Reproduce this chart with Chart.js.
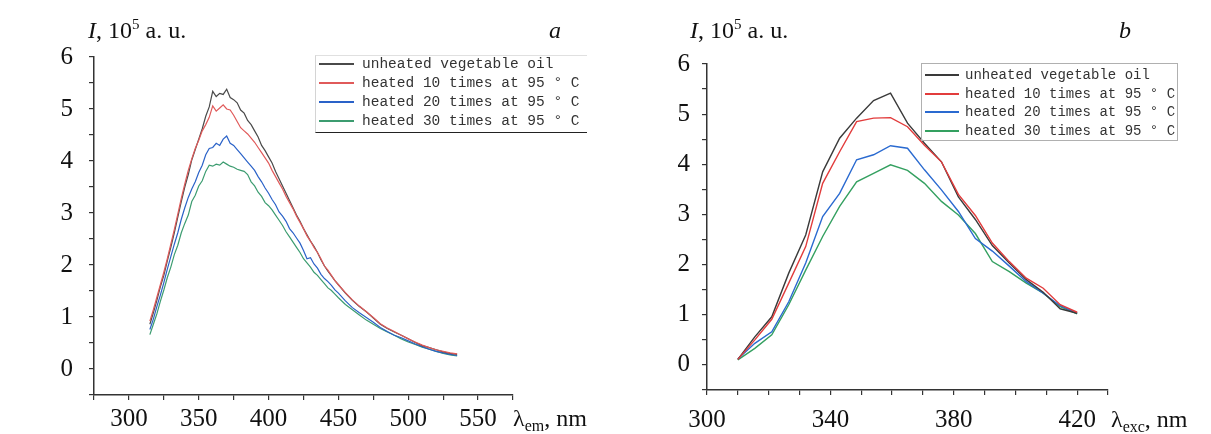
<!DOCTYPE html>
<html>
<head>
<meta charset="utf-8">
<script src="https://cdn.jsdelivr.net/npm/chart.js@4.4.0/dist/chart.umd.min.js"></script>
<style>
  body { margin: 0; background: #fff; width: 1211px; height: 434px; overflow: hidden; position: relative; font-family: "Liberation Serif", serif; color: #111; }
  canvas { position: absolute; top: 0; }
  #chartEm { left: 0; }
  #chartExc { left: 605px; }
  .lbl { position: absolute; font-size: 24px; line-height: 24px; white-space: nowrap; }
  .lbl sup { font-size: 15px; position: relative; top: -9px; vertical-align: baseline; }
  .lbl sub { font-size: 16px; position: relative; top: 5px; vertical-align: baseline; }
  .legend { position: absolute; font-family: "Liberation Mono", monospace; color: #333; box-sizing: border-box; }
  .legend .row { position: absolute; left: 0; right: 0; height: 18px; line-height: 18px; white-space: nowrap; }
  .legend .swatch { position: absolute; }
  .legend .txt { position: absolute; top: 0; }
</style>
</head>
<body>
<canvas id="chartEm" width="605" height="434"></canvas>
<canvas id="chartExc" width="606" height="434"></canvas>

<div class="lbl" style="left:88px; top:18px;"><i>I</i>, 10<sup>5</sup> a. u.</div>
<div class="lbl" style="left:549px; top:18px;"><i>a</i></div>
<div class="lbl" style="left:513px; top:406px;">λ<sub>em</sub>, nm</div>

<div class="lbl" style="left:690px; top:18px;"><i>I</i>, 10<sup>5</sup> a. u.</div>
<div class="lbl" style="left:1119px; top:18px;"><i>b</i></div>
<div class="lbl" style="left:1111px; top:407px;">λ<sub>exc</sub>, nm</div>

<div id="legendEm" class="legend"></div>
<div id="legendExc" class="legend"></div>

<script>
// noms des séries (mêmes pour les deux graphes)
const seriesNames = [
    'unheated vegetable oil',
    'heated 10 times at 95 ° C',
    'heated 20 times at 95 ° C',
    'heated 30 times at 95 ° C'
];

// --- graphe a : spectre d'émission ---
const emWavelength = [315, 317.5, 320, 322.5, 325, 327.5, 330, 332.5, 335, 337.5, 340, 342.5, 345, 347.5, 350, 352.5, 355, 357.5, 360, 362.5,
    365, 367.5, 370, 372.5, 375, 377.5, 380, 382.5, 385, 387.5, 390, 392.5, 395, 397.5, 400, 402.5, 405, 407.5, 410, 412.5,
    415, 417.5, 420, 422.5, 425, 427.5, 430, 432.5, 435, 437.5, 440, 442.5, 445, 447.5, 450,
    455, 460, 465, 470, 475, 480, 485, 490, 495, 500, 505, 510, 515, 520, 525, 530, 535];
const emUnheated = [0.86, 1.08, 1.32, 1.58, 1.80, 2.08, 2.34, 2.62, 2.92, 3.22, 3.50, 3.74, 4.02, 4.22, 4.42, 4.62, 4.86, 5.04, 5.34, 5.24,
    5.30, 5.28, 5.38, 5.22, 5.18, 5.12, 4.98, 4.92, 4.78, 4.70, 4.58, 4.46, 4.30, 4.20, 4.08, 3.96, 3.80, 3.66, 3.52, 3.38,
    3.24, 3.10, 2.96, 2.84, 2.70, 2.58, 2.46, 2.36, 2.24, 2.10, 1.98, 1.88, 1.79, 1.70, 1.62,
    1.46, 1.32, 1.20, 1.10, 0.98, 0.86, 0.78, 0.71, 0.65, 0.58, 0.51, 0.45, 0.41, 0.37, 0.33, 0.30, 0.28];
const emHeated10 = [0.92, 1.14, 1.38, 1.62, 1.86, 2.12, 2.40, 2.68, 2.98, 3.28, 3.56, 3.82, 4.04, 4.24, 4.40, 4.58, 4.70, 4.84, 5.06, 4.96,
    5.02, 5.08, 5.00, 4.98, 4.88, 4.76, 4.64, 4.58, 4.52, 4.44, 4.36, 4.26, 4.16, 4.06, 3.96, 3.82, 3.70, 3.58, 3.46, 3.32,
    3.20, 3.08, 2.94, 2.82, 2.70, 2.56, 2.46, 2.34, 2.24, 2.12, 1.98, 1.90, 1.80, 1.70, 1.62,
    1.47, 1.33, 1.21, 1.10, 0.99, 0.87, 0.79, 0.72, 0.65, 0.58, 0.52, 0.46, 0.41, 0.37, 0.34, 0.31, 0.29];
const emHeated20 = [0.76, 0.96, 1.20, 1.42, 1.66, 1.92, 2.16, 2.40, 2.62, 2.88, 3.10, 3.30, 3.46, 3.60, 3.78, 3.92, 4.12, 4.24, 4.26, 4.34,
    4.30, 4.42, 4.48, 4.34, 4.30, 4.22, 4.14, 4.06, 3.98, 3.90, 3.82, 3.70, 3.60, 3.48, 3.38, 3.26, 3.16, 3.02, 2.94, 2.84,
    2.70, 2.62, 2.52, 2.42, 2.28, 2.12, 2.14, 2.02, 1.94, 1.82, 1.74, 1.68, 1.61, 1.52, 1.46,
    1.31, 1.18, 1.08, 0.99, 0.90, 0.80, 0.72, 0.65, 0.60, 0.54, 0.48, 0.43, 0.38, 0.34, 0.31, 0.28, 0.26];
const emHeated30 = [0.66, 0.86, 1.06, 1.30, 1.52, 1.76, 1.96, 2.20, 2.38, 2.62, 2.80, 2.96, 3.22, 3.34, 3.52, 3.62, 3.80, 3.92, 3.90, 3.94,
    3.92, 3.98, 3.94, 3.90, 3.88, 3.84, 3.82, 3.80, 3.74, 3.60, 3.52, 3.40, 3.32, 3.20, 3.14, 3.06, 2.96, 2.86, 2.76, 2.64,
    2.54, 2.44, 2.34, 2.24, 2.12, 2.04, 1.96, 1.86, 1.80, 1.72, 1.64, 1.56, 1.51, 1.44, 1.37,
    1.24, 1.14, 1.04, 0.94, 0.86, 0.78, 0.71, 0.65, 0.58, 0.52, 0.47, 0.42, 0.38, 0.34, 0.30, 0.27, 0.25];
const emTickLabels = [300, 350, 400, 450, 500, 550];

// --- graphe b : spectre d'excitation ---
const excWavelength = [310, 315.5, 321, 326.5, 332, 337.5, 343, 348.5, 354, 359.5, 365, 370.5, 376, 381.5, 387, 392.5, 398, 403.5, 409, 414.5, 420];
const excUnheated = [0.11, 0.56, 0.96, 1.83, 2.59, 3.85, 4.52, 4.92, 5.27, 5.42, 4.82, 4.42, 4.05, 3.35, 2.90, 2.38, 2.03, 1.70, 1.45, 1.12, 1.03];
const excHeated10 = [0.11, 0.50, 0.91, 1.63, 2.36, 3.62, 4.25, 4.85, 4.92, 4.93, 4.75, 4.38, 4.05, 3.40, 2.98, 2.43, 2.06, 1.73, 1.53, 1.20, 1.05];
const excHeated20 = [0.12, 0.43, 0.66, 1.26, 2.03, 2.96, 3.42, 4.09, 4.19, 4.37, 4.32, 3.89, 3.49, 3.06, 2.52, 2.27, 1.97, 1.66, 1.43, 1.18, 1.03];
const excHeated30 = [0.10, 0.33, 0.60, 1.20, 1.89, 2.56, 3.16, 3.65, 3.82, 3.99, 3.88, 3.62, 3.26, 2.99, 2.62, 2.06, 1.86, 1.63, 1.43, 1.16, 1.02];
const excTickLabels = [300, 340, 380, 420];

const yTickLabels = [0, 1, 2, 3, 4, 5, 6];

// couleurs / épaisseurs des courbes
const emColors = ['#4a4a4a', '#e05a5a', '#2a62c8', '#3c9c70'];
const emWidths = [1.2, 1.2, 1.2, 1.2];
const emLegendWidths = [2, 1.3, 2.5, 1.3];
const excColors = ['#3a3a3a', '#e23c3c', '#2a6ad0', '#34a060'];
const excWidths = [1.4, 1.4, 1.4, 1.4];

const AXIS_COLOR = '#333';
const TICK_FONT = { family: 'Liberation Serif', size: 25 };

function buildDatasets(xs, seriesList, colors, widths) {
    return seriesList.map((vals, i) => ({
        label: seriesNames[i],
        data: xs.map((x, k) => ({ x: x, y: vals[k] })),
        borderColor: colors[i],
        borderWidth: widths[i],
        pointRadius: 0,
        tension: 0,
        fill: false,
        order: i === 1 ? -1 : i  // le rouge passe par-dessus le noir
    }));
}

function makeChart(id, cfg) {
    const ctx = document.getElementById(id).getContext('2d');
    return new Chart(ctx, {
        type: 'line',
        data: { datasets: cfg.datasets },
        options: {
            responsive: false,
            animation: false,
            events: [],
            layout: { padding: cfg.padding },
            plugins: { legend: { display: false }, tooltip: { enabled: false } },
            scales: {
                x: {
                    type: 'linear',
                    min: cfg.xMin, max: cfg.xMax,
                    border: { display: true, color: AXIS_COLOR, width: 1.5 },
                    grid: { drawOnChartArea: false, drawTicks: true, tickLength: 5, color: AXIS_COLOR, lineWidth: 1.2 },
                    ticks: {
                        stepSize: cfg.xStep,
                        autoSkip: false,
                        maxRotation: 0,
                        padding: cfg.xPad,
                        color: '#111',
                        font: TICK_FONT,
                        callback: v => cfg.xLabels.includes(v) ? String(v) : ''
                    },
                    afterFit: s => { s.height = cfg.xAxisHeight; }
                },
                y: {
                    min: -0.5, max: 6,
                    border: { display: true, color: AXIS_COLOR, width: 1.5 },
                    grid: { drawOnChartArea: false, drawTicks: true, tickLength: 5, color: AXIS_COLOR, lineWidth: 1.2 },
                    ticks: {
                        stepSize: 0.5,
                        autoSkip: false,
                        padding: cfg.yPad,
                        color: '#111',
                        font: TICK_FONT,
                        callback: v => yTickLabels.includes(v) ? String(v) : ''
                    },
                    afterFit: s => { s.width = cfg.yAxisWidth; }
                }
            }
        }
    });
}

// légende HTML (positionnée comme sur la figure)
function buildLegend(id, box, colors, widths) {
    const el = document.getElementById(id);
    Object.assign(el.style, box.style);
    el.style.fontSize = box.fontSize + 'px';
    seriesNames.forEach((name, i) => {
        const row = document.createElement('div');
        row.className = 'row';
        row.style.top = (box.rows[i] - 9) + 'px';
        const sw = document.createElement('div');
        sw.className = 'swatch';
        sw.style.left = box.swLeft + 'px';
        sw.style.width = box.swWidth + 'px';
        sw.style.height = widths[i] + 'px';
        sw.style.top = (9 - widths[i] / 2) + 'px';
        sw.style.background = colors[i];
        const tx = document.createElement('div');
        tx.className = 'txt';
        tx.style.left = box.txtLeft + 'px';
        tx.textContent = name;
        row.appendChild(sw);
        row.appendChild(tx);
        el.appendChild(row);
    });
}

makeChart('chartEm', {
    datasets: buildDatasets(emWavelength, [emUnheated, emHeated10, emHeated20, emHeated30], emColors, emWidths),
    xMin: 275, xMax: 575, xStep: 25, xLabels: emTickLabels,
    padding: { left: 0, top: 57, right: 92, bottom: 0 },
    xAxisHeight: 39, yAxisWidth: 94, yPad: 16, xPad: 4
});

makeChart('chartExc', {
    datasets: buildDatasets(excWavelength, [excUnheated, excHeated10, excHeated20, excHeated30], excColors, excWidths),
    xMin: 300, xMax: 430, xStep: 10, xLabels: excTickLabels,
    padding: { left: 0, top: 64, right: 103, bottom: 0 },
    xAxisHeight: 44, yAxisWidth: 102, yPad: 12, xPad: 10
});

buildLegend('legendEm', {
    style: { left: '315px', top: '55px', width: '272px', height: '78px',
             borderLeft: '1px solid #d4d4d4', borderTop: '1px solid #e0e0e0', borderBottom: '1.5px solid #222' },
    fontSize: 14.5, rows: [8, 27, 46, 65], swLeft: 3, swWidth: 35, txtLeft: 46
}, emColors, emLegendWidths);

buildLegend('legendExc', {
    style: { left: '921px', top: '63px', width: '257px', height: '78px', border: '1px solid #b0b0b0' },
    fontSize: 14, rows: [11, 30, 48, 67], swLeft: 3, swWidth: 34, txtLeft: 43
}, excColors, [2, 2, 2, 2]);
</script>
</body>
</html>
